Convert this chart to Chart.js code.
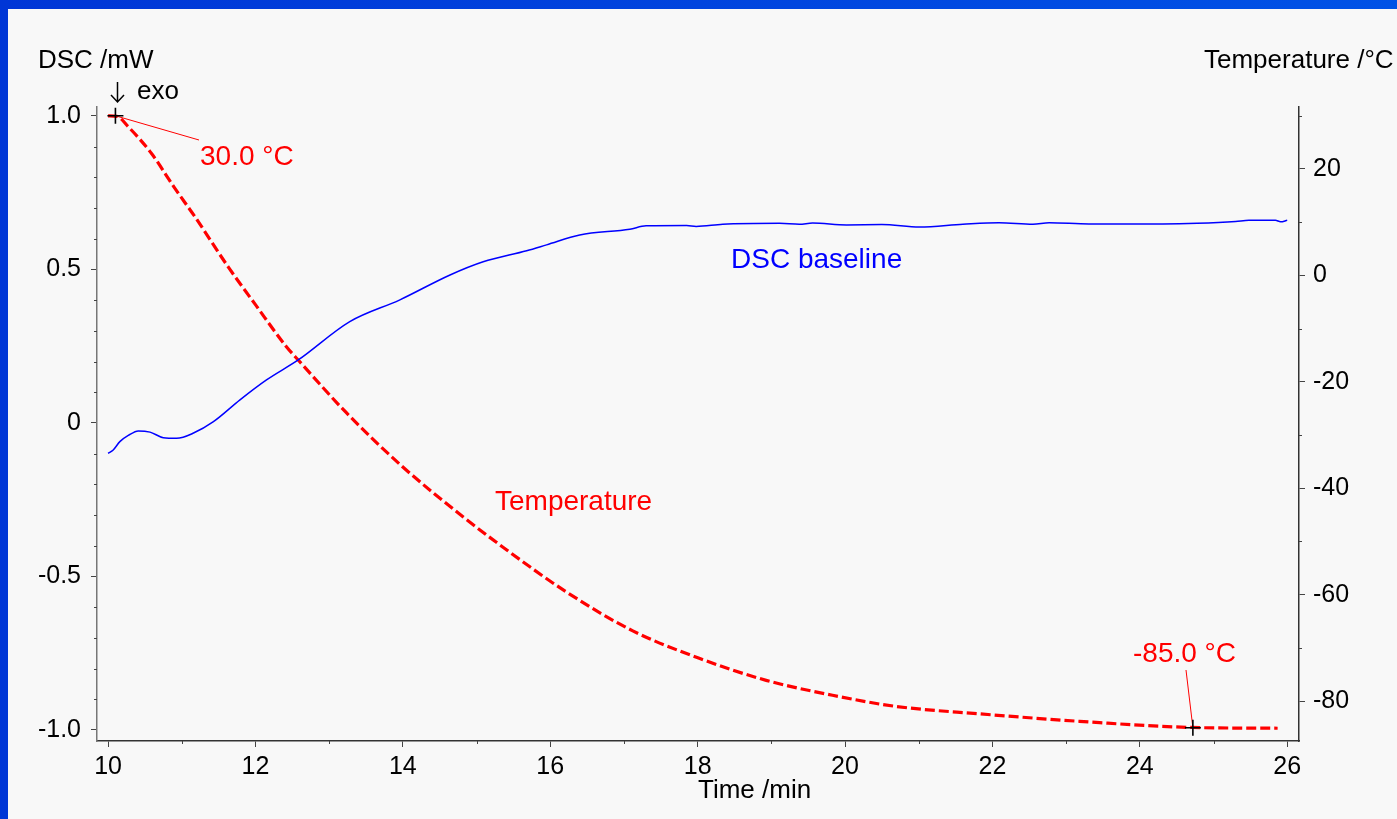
<!DOCTYPE html>
<html>
<head>
<meta charset="utf-8">
<script src="https://cdn.jsdelivr.net/npm/chart.js@4/dist/chart.umd.min.js"></script>
<style>
    html, body { margin: 0; padding: 0; }
    body {
        width: 1397px; height: 819px; overflow: hidden; position: relative;
        background: linear-gradient(90deg, #0036d6, #0052e6);
    }
    #panel { position: absolute; left: 8px; top: 9px; right: 0; bottom: 0; background: #f8f8f8; }
    #dscChart { position: absolute; left: 0; top: 0; }
</style>
</head>
<body>
<div id="panel"></div>
<canvas id="dscChart" width="1397" height="819"></canvas>
<script>
// Time axis (min)
const xTicks = [10, 12, 14, 16, 18, 20, 22, 24, 26];
const dscTicks = [-1.0, -0.5, 0, 0.5, 1.0];
const dscTickLabels = ['-1.0', '-0.5', '0', '0.5', '1.0'];
const tempTicks = [-80, -60, -40, -20, 0, 20];

// DSC baseline (mW)
const dscTime = [10.0, 10.07, 10.16, 10.28, 10.41, 10.57, 10.75, 10.93, 11.16, 11.43, 11.79, 12.15, 12.58,
    13.28, 13.96, 14.64, 15.09, 15.68, 15.95, 16.40, 17.08, 17.30, 17.85, 17.98, 18.34, 19.11, 19.38, 19.56,
    20.02, 20.5, 21.01, 21.60, 22.09, 22.55, 22.77, 23.31, 24.31, 24.78, 25.30, 25.48, 25.84, 25.91, 26.0];
const dscValues = [-0.099, -0.088, -0.061, -0.040, -0.026, -0.030, -0.048, -0.050, -0.033, 0.004, 0.075, 0.140, 0.205,
    0.330, 0.401, 0.482, 0.525, 0.561, 0.580, 0.612, 0.631, 0.642, 0.643, 0.640, 0.647, 0.650, 0.647, 0.651,
    0.645, 0.646, 0.638, 0.647, 0.652, 0.647, 0.652, 0.648, 0.648, 0.650, 0.656, 0.660, 0.660, 0.655, 0.660];

// Temperature (°C)
const tempTime = [10.0, 10.12, 10.27, 10.59, 10.9, 11.18, 11.63, 12.0, 12.42, 12.58, 13.24, 14.0, 14.82, 15.41,
    16.22, 17.12, 18.03, 18.93, 19.83, 20.69, 21.83, 23.18, 24.69, 25.87];
const tempValues = [30.0, 29.9, 28.0, 22.9, 16.5, 11.0, 1.6, -5.5, -13.4, -15.9, -25.9, -36.0, -45.4, -51.6,
    -59.5, -66.8, -72.0, -76.1, -78.9, -81.0, -82.4, -83.8, -84.95, -85.1];

// marked points
const markTime = [10.1, 24.72];
const markTemp = [30.0, -85.0];
const markLabels = ['30.0 °C', '-85.0 °C'];

const FONT = '"Liberation Sans", Arial, sans-serif';

const toPoints = (xs, ys) => xs.map((x, i) => ({ x: x, y: ys[i] }));

// minor ticks, titles, labels and markers
const overlay = {
    id: 'overlay',
    afterDraw(chart) {
        const ctx = chart.ctx;
        const { x, y, y2 } = chart.scales;
        const area = chart.chartArea;
        ctx.save();

        // minor tick marks
        ctx.strokeStyle = '#444';
        ctx.lineWidth = 1;
        ctx.beginPath();
        for (let t = 10; t <= 26; t += 1) {
            if (t % 2 === 0) continue;
            const px = Math.round(x.getPixelForValue(t)) + 0.5;
            ctx.moveTo(px, area.bottom); ctx.lineTo(px, area.bottom + 3);
        }
        for (let k = -10; k <= 10; k++) {
            if (k % 5 === 0) continue;
            const py = Math.round(y.getPixelForValue(k / 10)) + 0.5;
            ctx.moveTo(area.left, py); ctx.lineTo(area.left - 3, py);
        }
        for (let v = -80; v <= 30; v += 10) {
            if (v % 20 === 0) continue;
            const py = Math.round(y2.getPixelForValue(v)) + 0.5;
            ctx.moveTo(area.right, py); ctx.lineTo(area.right + 3, py);
        }
        ctx.stroke();

        // axis titles
        ctx.fillStyle = '#000';
        ctx.textBaseline = 'middle';
        ctx.textAlign = 'left';
        ctx.font = '26px ' + FONT;
        ctx.fillText('DSC /mW', 38, 61);
        ctx.fillText('Temperature /°C', 1204, 61);
        ctx.fillText('Time /min', 698, 791);
        ctx.fillText('exo', 137, 92);

        // exo arrow
        ctx.strokeStyle = '#000';
        ctx.lineWidth = 1.5;
        ctx.beginPath();
        ctx.moveTo(117.5, 82); ctx.lineTo(117.5, 102);
        ctx.moveTo(111, 95); ctx.lineTo(117.5, 102); ctx.lineTo(124, 95);
        ctx.stroke();

        // curve labels
        ctx.font = '28px ' + FONT;
        ctx.fillStyle = '#0000ff';
        ctx.fillText('DSC baseline', 731, 260);
        ctx.fillStyle = '#ff0000';
        ctx.fillText('Temperature', 495, 502);

        // marked temperatures
        const labelPos = [[200, 157, 199, 140], [1133, 654, 1186, 670]];
        markTime.forEach((t, i) => {
            const px = x.getPixelForValue(t);
            const py = y2.getPixelForValue(markTemp[i]);
            const [lx, ly, ax, ay] = labelPos[i];
            ctx.strokeStyle = '#ff0000';
            ctx.lineWidth = 1;
            ctx.beginPath();
            ctx.moveTo(px, py); ctx.lineTo(ax, ay);
            ctx.stroke();
            ctx.strokeStyle = '#000';
            ctx.lineWidth = 1.6;
            ctx.beginPath();
            ctx.moveTo(px - 8, py); ctx.lineTo(px + 8, py);
            ctx.moveTo(px, py - 8); ctx.lineTo(px, py + 8);
            ctx.stroke();
            ctx.fillStyle = '#ff0000';
            ctx.font = '28px ' + FONT;
            ctx.fillText(markLabels[i], lx, ly);
        });
        ctx.restore();
    }
};

const axisFont = { family: FONT, size: 25 };

new Chart(document.getElementById('dscChart'), {
    type: 'line',
    data: {
        datasets: [{
            label: 'DSC baseline',
            data: toPoints(dscTime, dscValues),
            yAxisID: 'y',
            borderColor: '#0000ff',
            borderWidth: 1.5,
            pointRadius: 0,
            cubicInterpolationMode: 'monotone'
        }, {
            label: 'Temperature',
            data: toPoints(tempTime, tempValues),
            yAxisID: 'y2',
            borderColor: '#ff0000',
            borderWidth: 3.2,
            borderDash: [10, 4],
            pointRadius: 0,
            cubicInterpolationMode: 'monotone'
        }]
    },
    options: {
        responsive: false,
        animation: false,
        devicePixelRatio: 1,
        layout: { padding: { top: 107, left: 0, right: 0, bottom: 0 } },
        plugins: { legend: { display: false }, tooltip: { enabled: false } },
        scales: {
            x: {
                type: 'linear',
                min: 9.85, max: 26.16,
                afterBuildTicks: (s) => { s.ticks = xTicks.map(v => ({ value: v })); },
                afterFit: (s) => { s.height = 78; },
                grid: { drawOnChartArea: false, tickLength: 6, tickColor: '#444' },
                border: { color: '#333', width: 1.5 },
                ticks: { color: '#000', font: axisFont, padding: 5, maxRotation: 0 }
            },
            y: {
                position: 'left',
                min: -1.036, max: 1.029,
                afterBuildTicks: (s) => { s.ticks = dscTicks.map(v => ({ value: v })); },
                afterFit: (s) => { s.width = 97; },
                grid: { drawOnChartArea: false, tickLength: 6, tickColor: '#444' },
                border: { color: '#777', width: 1.5 },
                ticks: {
                    color: '#000', font: axisFont, padding: 10,
                    callback: (v) => dscTickLabels[dscTicks.indexOf(v)]
                }
            },
            y2: {
                position: 'right',
                min: -87.5, max: 31.65,
                afterBuildTicks: (s) => { s.ticks = tempTicks.map(v => ({ value: v })); },
                afterFit: (s) => { s.width = 98; },
                grid: { drawOnChartArea: false, tickLength: 6, tickColor: '#444' },
                border: { color: '#333', width: 1.5 },
                ticks: { color: '#000', font: axisFont, padding: 8 }
            }
        }
    },
    plugins: [overlay]
});
</script>
</body>
</html>
